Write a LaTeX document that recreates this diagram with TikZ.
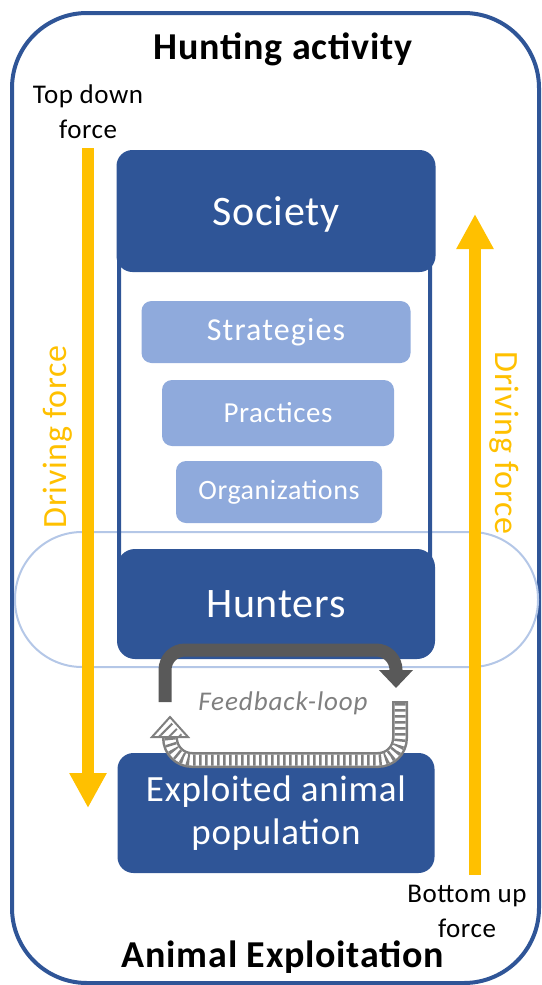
\documentclass[tikz,border=0pt]{standalone}
\usepackage{fontspec}
\setmainfont{Carlito}[LetterSpace=2]
\newfontfamily\spacedfont{Carlito}[LetterSpace=3.5]
\usetikzlibrary{arrows.meta,positioning,patterns.meta}

\definecolor{dkblue}{HTML}{2F5597}
\definecolor{ltblue}{HTML}{8FAADC}
\definecolor{palblue}{HTML}{B4C7E7}
\definecolor{gold}{HTML}{FFC000}
\definecolor{loopgray}{HTML}{595959}
\definecolor{stripegray}{HTML}{7F7F7F}

\tikzset{
  bluebox/.style={fill=dkblue,rounded corners=16pt,text=white,inner sep=0pt},
  darkbox/.style={bluebox,text depth=0pt,font=\fontsize{42}{48}\selectfont},
  lightbox/.style={fill=ltblue,rounded corners=10pt,text=white,inner sep=0pt},
  forcearrow/.style={draw=gold,line width=12pt,-{Triangle[width=35pt,length=35pt]}},
  forcetext/.style={text=gold,font=\fontsize{34}{40}\selectfont,inner sep=0pt},
  sidetext/.style={font=\fontsize{27}{35}\selectfont,align=center,inner sep=0pt},
  titletext/.style={font=\fontsize{38}{44}\selectfont\bfseries,inner sep=0pt,anchor=base}
}

\begin{document}
\begin{tikzpicture}[x=1pt,y=-1pt]
       \useasboundingbox (0,0) rectangle (541,985);

       \coordinate (tdtop)  at (88,148);
       \coordinate (tdtip)  at (88,808);
       \coordinate (bubase) at (475,875);
       \coordinate (butip)  at (475,214);

       \coordinate (fbstart) at (165,702);
       \coordinate (fbtop)   at (280,650);
       \coordinate (fbtip)   at (396,688);

       \coordinate (fbback)     at (400,701);
       \coordinate (fbbot)      at (285,760);
       \coordinate (fbheadbase) at (170,737);
       \coordinate (fbbacktip)  at (170,717);

       \draw[dkblue,line width=4pt,rounded corners=75pt] (12,13) rectangle (539,983);
       \draw[palblue,line width=2pt,rounded corners=67pt] (15,532) rectangle (538,667);
       \draw[dkblue,line width=4pt,rounded corners=16pt] (119,175) rectangle (430,590);

       \node[darkbox,minimum width=319pt,minimum height=122pt] (society) at (276,211) {Society};
       \node[darkbox,minimum width=318pt,minimum height=110pt,rounded corners=18pt] (hunters) at (276,604) {Hunters};

       \node[lightbox,minimum width=269pt,minimum height=62pt,font=\fontsize{32}{38}\spacedfont] (strategies) at (276,332) {Strategies};
       \node[lightbox,minimum width=232pt,minimum height=66pt,font=\fontsize{29}{35}\selectfont] (practices) at (278,413) {Practices};
       \node[lightbox,minimum width=206pt,minimum height=62pt,font=\fontsize{28}{34}\selectfont] (organizations) at (279,492) {Organizations};

       \node[bluebox,minimum width=317pt,minimum height=120pt,align=center,font=\fontsize{37}{43}\selectfont] (exploited) at (276,813) {Exploited animal\\population};

       \draw[loopgray,line width=13pt,rounded corners=20pt,-{Triangle[width=33pt,length=18pt]}] (fbstart) |- (fbtop) -| (fbtip);

       \draw[stripegray,line width=16pt,rounded corners=22pt] (fbback) |- (fbbot) -| (fbheadbase);
       \draw[white,line width=11pt,rounded corners=22pt,shorten <=2pt] (fbback) |- (fbbot) -| (fbheadbase);
       \draw[stripegray,line width=11pt,rounded corners=22pt,shorten <=2pt,dash pattern=on 2.5pt off 3.5pt] (fbback) |- (fbbot) -| (fbheadbase);
       \draw[stripegray,line width=2pt,fill=white,line join=miter] (fbbacktip) -- ++(18,20) -- ++(-36,0) -- cycle;
       \fill[pattern={Lines[angle=45,distance=7pt,line width=2pt]},pattern color=stripegray] (fbbacktip) ++(0,4) -- ++(13,15) -- ++(-26,0) -- cycle;

       \node[text=stripegray,font=\fontsize{27}{32}\spacedfont\itshape,inner sep=0pt] (fbloop) at (283,703) {Feedback-loop};

       \draw[forcearrow] (tdtop) -- (tdtip);
       \draw[forcearrow] (bubase) -- (butip);

       \node[forcetext,rotate=90] (drivedown) at (58,437) {Driving force};
       \node[forcetext,rotate=-90] (driveup) at (504,443) {Driving force};

       \node[sidetext] (topdown) at (88,112) {Top down\\force};
       \node[sidetext] (bottomup) at (467,911) {Bottom up\\force};

       \node[titletext] (hunting) at (283,59) {Hunting activity};
       \node[titletext] (exploitation) at (283,967) {Animal Exploitation};
     \end{tikzpicture}
\end{document}
